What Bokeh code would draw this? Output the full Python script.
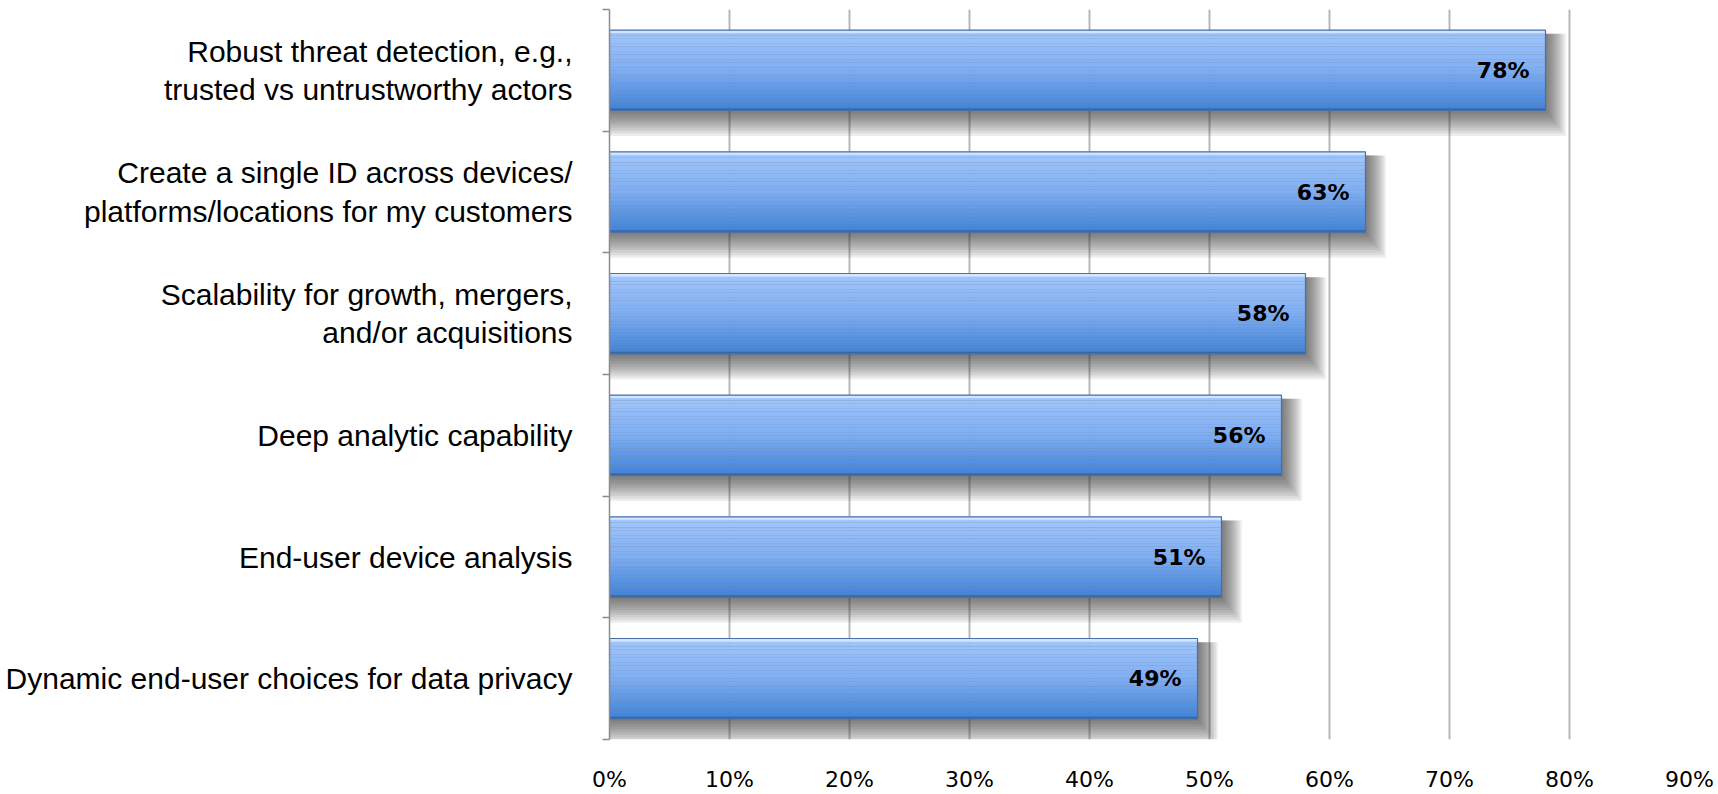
import numpy as np
from bokeh.plotting import figure
from bokeh.models import Range1d, FixedTicker, NumeralTickFormatter
from bokeh.core.properties import value
from bokeh.embed import file_html
from bokeh.resources import INLINE

categories = [
    "Robust threat detection, e.g.,\ntrusted vs untrustworthy actors",
    "Create a single ID across devices/\nplatforms/locations for my customers",
    "Scalability for growth, mergers,\nand/or acquisitions",
    "Deep analytic capability",
    "End-user device analysis",
    "Dynamic end-user choices for data privacy",
]
values = [0.78, 0.63, 0.58, 0.56, 0.51, 0.49]
value_labels = ["78%", "63%", "58%", "56%", "51%", "49%"]
x_ticks = [0.0, 0.1, 0.2, 0.3, 0.4, 0.5, 0.6, 0.7, 0.8, 0.9]

n = len(categories)
centers = [i + 0.5 for i in range(n)]
bar_h = 0.66

p = figure(width=1718, height=794, output_backend="svg", toolbar_location=None,
           x_range=Range1d(0, 0.9), y_range=Range1d(n, 0),
           min_border_left=609, min_border_right=29, min_border_top=9, min_border_bottom=43)
p.outline_line_color = None
p.background_fill_color = "white"
p.border_fill_color = "white"

# grid
p.ygrid.grid_line_color = None
p.xgrid.grid_line_color = "#b8b8b8"
p.xgrid.grid_line_width = 2

# x axis
p.xaxis.ticker = FixedTicker(ticks=x_ticks)
p.xaxis.formatter = NumeralTickFormatter(format="0%")
p.xaxis.axis_line_color = None
p.xaxis.major_tick_line_color = None
p.xaxis.minor_tick_line_color = None
p.xaxis.major_label_text_font = "DejaVu Sans"
p.xaxis.major_label_text_font_size = "22px"
p.xaxis.major_label_text_color = "black"
p.xaxis.major_label_standoff = 21

# y axis
p.yaxis.ticker = FixedTicker(ticks=centers, minor_ticks=list(range(n + 1)))
p.yaxis.major_label_overrides = {c: lab for c, lab in zip(centers, categories)}
p.yaxis.major_tick_out = 0
p.yaxis.major_tick_in = 0
p.yaxis.minor_tick_out = 7
p.yaxis.minor_tick_in = 0
p.yaxis.minor_tick_line_color = "#8c8c8c"
p.yaxis.minor_tick_line_width = 1.5
p.yaxis.axis_line_color = "#8c8c8c"
p.yaxis.axis_line_width = 1.5
p.yaxis.major_label_text_font = "Liberation Sans"
p.yaxis.major_label_text_font_size = "30px"
p.yaxis.major_label_text_color = "black"
p.yaxis.major_label_standoff = 30
p.yaxis.major_label_text_line_height = 1.17

# shadows
sh_y, sh_h, sh_r = [], [], []
layers = 10
for c, v in zip(centers, values):
    for i in range(1, layers + 1):
        dy = 0.021 * i
        top = c - bar_h / 2 + 0.03
        bot = c + bar_h / 2 + dy
        sh_y.append((top + bot) / 2)
        sh_h.append(bot - top)
        sh_r.append(v + 0.0017 * i)
p.hbar(y=sh_y, height=sh_h, left=0, right=sh_r, fill_color="#303030",
       fill_alpha=0.085, line_color=None)

# gradient strips
def hex2rgb(h):
    return np.array([int(h[i:i + 2], 16) for i in (1, 3, 5)], dtype=float)

c_top = hex2rgb("#a2c8fe")
c_mid = hex2rgb("#7eadf2")
c_bot = hex2rgb("#3f82d8")
N = 30
st_y, st_r, st_c = [], [], []
sh = bar_h / N
for c, v in zip(centers, values):
    for k in range(N):
        t = (k + 0.5) / N
        if t < 0.5:
            col = c_top + (c_mid - c_top) * (t / 0.5)
        else:
            col = c_mid + (c_bot - c_mid) * ((t - 0.5) / 0.5)
        st_y.append(c - bar_h / 2 + (k + 0.5) * sh)
        st_r.append(v)
        st_c.append("#%02x%02x%02x" % tuple(int(round(x)) for x in col))
p.hbar(y=st_y, height=sh * 1.05, left=0, right=st_r, fill_color=st_c, line_color=None)

# top highlight
p.hbar(y=[c - bar_h / 2 + 0.012 for c in centers], height=0.024, left=0, right=values,
       fill_color="#d2e6ff", line_color=None)
# bottom dark edge
p.hbar(y=[c + bar_h / 2 - 0.008 for c in centers], height=0.016, left=0, right=values,
       fill_color="#2f5f9e", line_color=None, fill_alpha=0.8)
# outline
p.hbar(y=centers, height=bar_h, left=0, right=values, fill_color=None,
       line_color="#4a6fa5", line_width=1.2)

# value labels
p.text(x=values, y=centers, text=value_labels, text_align="right", text_baseline="middle",
       x_offset=-16, text_font=value("DejaVu Sans"), text_font_style="bold",
       text_font_size="22px", text_color="black")

open("out.html", "w").write(file_html(p, INLINE))
